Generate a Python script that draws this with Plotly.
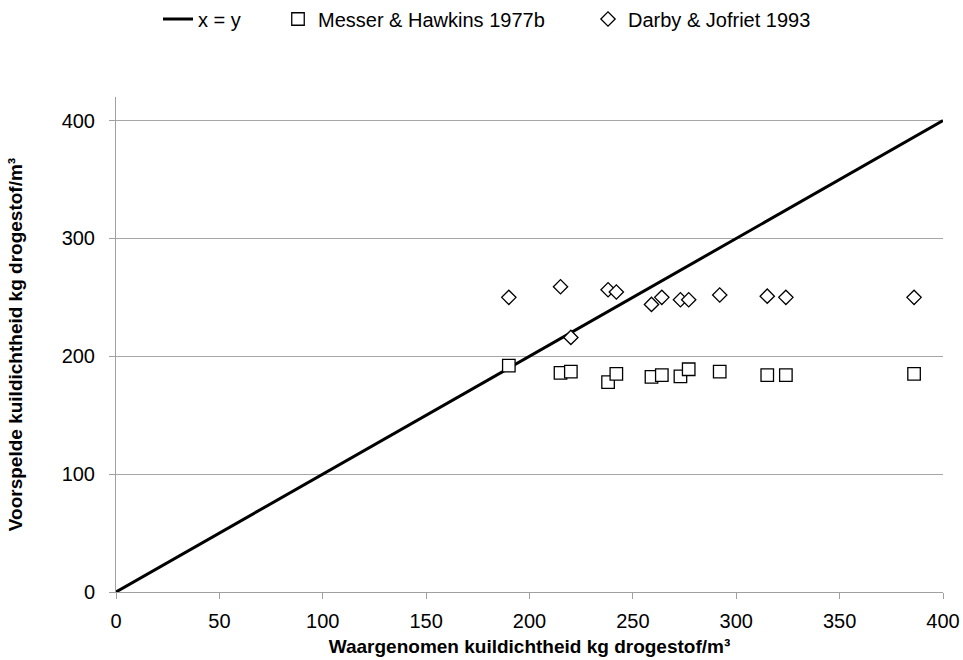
import plotly.graph_objects as go

line_x = [0, 400]
line_y = [0, 400]

obs = [190, 215, 220, 238, 242, 259, 264, 273, 277, 292, 315, 324, 386]
messer = [192, 186, 187, 178, 185, 182.5, 184, 183, 189, 187, 184, 184, 185]
darby = [250, 259, 216, 256.5, 254.5, 244, 250, 248, 248, 252, 251, 250, 250]

x_ticks = [0, 50, 100, 150, 200, 250, 300, 350, 400]
y_ticks = [0, 100, 200, 300, 400]

FONT = "Liberation Sans, Arial, sans-serif"
W, H = 963, 660

fig = go.Figure()
fig.add_trace(go.Scatter(x=line_x, y=line_y, mode="lines", name="x = y",
                         line=dict(color="black", width=3), legend="legend"))
fig.add_trace(go.Scatter(x=obs, y=messer, mode="markers", name="Messer & Hawkins 1977b",
                         marker=dict(symbol="square", size=12.5, color="white",
                                     line=dict(color="black", width=1.3)),
                         legend="legend2"))
fig.add_trace(go.Scatter(x=obs, y=darby, mode="markers", name="Darby & Jofriet 1993",
                         marker=dict(symbol="diamond", size=11, color="white",
                                     line=dict(color="black", width=1.3)),
                         legend="legend3"))

def leg(px):
    return dict(orientation="h", xref="container", yref="container",
                x=px / W, xanchor="left", y=1 - 19 / H, yanchor="middle",
                font=dict(size=20), bgcolor="rgba(0,0,0,0)", borderwidth=0)

fig.update_layout(
    width=W, height=H,
    paper_bgcolor="white", plot_bgcolor="white",
    margin=dict(l=116, r=20, t=97, b=68),
    font=dict(family=FONT, size=20, color="black"),
    legend=leg(158), legend2=leg(278), legend3=leg(588),
    showlegend=True,
)
fig.update_xaxes(range=[0, 400], tickvals=x_ticks, ticks="outside", ticklen=6,
                 tickcolor="#a0a0a0", showline=True, linecolor="#a0a0a0", linewidth=1,
                 showgrid=False, zeroline=False, automargin=False,
                 tickfont=dict(size=20), ticklabelstandoff=5,
                 title=dict(text="<b>Waargenomen kuildichtheid kg drogestof/m³</b>",
                            font=dict(size=19), standoff=8))
fig.update_yaxes(range=[0, 420], tickvals=y_ticks, ticks="outside", ticklen=6,
                 tickcolor="#a0a0a0", showline=True, linecolor="#a0a0a0", linewidth=1,
                 showgrid=True, gridcolor="#a6a6a6", gridwidth=1, zeroline=False,
                 automargin=False, tickfont=dict(size=20), ticklabelstandoff=10,
                 title=dict(text="<b>Voorspelde kuildichtheid kg drogestof/m³</b>",
                            font=dict(size=19), standoff=33))

fig.write_html("out.html", config={"displayModeBar": False},
               post_script="document.body.style.margin='0';document.body.style.padding='0';")
